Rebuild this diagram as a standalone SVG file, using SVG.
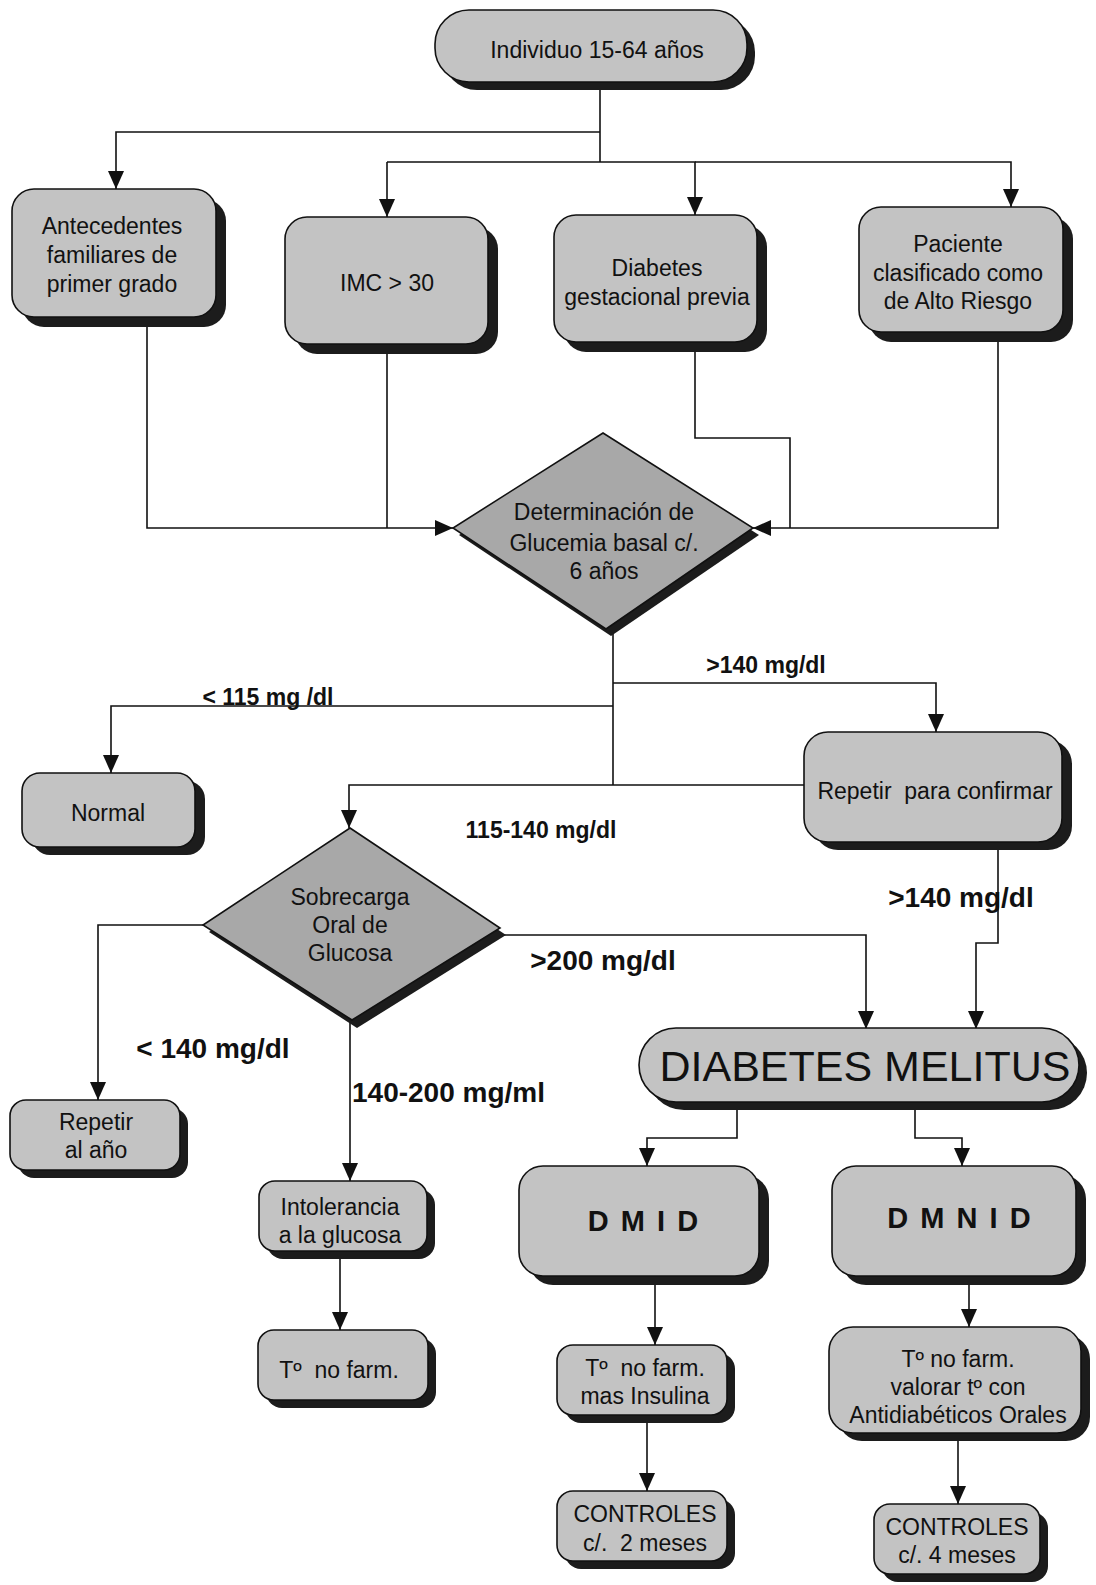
<svg xmlns="http://www.w3.org/2000/svg" width="1096" height="1585" viewBox="0 0 1096 1585">
  <style>
    .box { fill: #c3c3c3; stroke: #111; stroke-width: 1.6; }
    .dia { fill: #a8a8a8; stroke: #111; stroke-width: 1.6; }
    .sh { fill: #1c1c1c; }
    .t { font-family: "Liberation Sans", Arial, sans-serif; font-size: 23px; text-anchor: middle; fill: #111; white-space: pre; }
    .lbl { font-family: "Liberation Sans", Arial, sans-serif; font-weight: bold; fill: #111; white-space: pre; }
    .s { font-size: 23px; }
    .b { font-size: 28px; }
    .conn path { fill: none; stroke: #111; stroke-width: 1.6; }
    .arr { marker-end: url(#ah); }
  </style>
  <defs>
    <marker id="ah" viewBox="0 0 18 16" refX="18" refY="8" markerWidth="18" markerHeight="16" markerUnits="userSpaceOnUse" orient="auto">
      <path d="M0,0 L18,8 L0,16 z" fill="#111"/>
    </marker>
  </defs>

  <rect width="1096" height="1585" fill="#fff"/>

  <!-- connectors -->
  <g id="connectors" class="conn">
    <path d="M600,83 V162"/>
    <path class="arr" d="M600,132 H116 V189"/>
    <path class="arr" d="M387,162 V217"/>
    <path class="arr" d="M387,162 H695 V215"/>
    <path class="arr" d="M695,162 H1011 V207"/>
    <path class="arr" d="M147,318 V528 H453"/>
    <path d="M387,344 V528"/>
    <path d="M695,342 V438 H790 V528"/>
    <path class="arr" d="M998,332 V528 H753"/>
    <path d="M613,631 V785"/>
    <path class="arr" d="M613,683 H936 V732"/>
    <path class="arr" d="M613,706 H111 V773"/>
    <path class="arr" d="M804,785 H349 V828"/>
    <path class="arr" d="M500,935 H866 V1029"/>
    <path class="arr" d="M203,925 H98 V1100"/>
    <path class="arr" d="M350,1020 V1181"/>
    <path class="arr" d="M998,844 V943 H976 V1029"/>
    <path class="arr" d="M737,1102 V1138 H647 V1166"/>
    <path class="arr" d="M915,1102 V1138 H962 V1166"/>
    <path class="arr" d="M340,1251 V1330"/>
    <path class="arr" d="M655,1277 V1345"/>
    <path class="arr" d="M647,1415 V1491"/>
    <path class="arr" d="M969,1277 V1327"/>
    <path class="arr" d="M958,1433 V1504"/>
  </g>

  <!-- connector labels -->
  <g id="labels">
    <text class="lbl s" x="766" y="673" text-anchor="middle">&gt;140 mg/dl</text>
    <text class="lbl s" x="268" y="705" text-anchor="middle">&lt; 115 mg /dl</text>
    <text class="lbl s" x="541" y="838" text-anchor="middle">115-140 mg/dl</text>
    <text class="lbl b" x="961" y="907" text-anchor="middle">&gt;140 mg/dl</text>
    <text class="lbl b" x="603" y="970" text-anchor="middle">&gt;200 mg/dl</text>
    <text class="lbl b" x="213" y="1058" text-anchor="middle">&lt; 140 mg/dl</text>
    <text class="lbl b" x="352" y="1102">140-200 mg/ml</text>
  </g>

  <g id="n-individuo">
    <rect class="sh" x="443" y="18" width="312" height="72" rx="34"/>
    <rect class="box" x="435" y="10" width="312" height="72" rx="34"/>
    <text class="t" x="597" y="58">Individuo 15-64 años</text>
  </g>

  <g id="n-antecedentes">
    <rect class="sh" x="22" y="199" width="204" height="128" rx="22"/>
    <rect class="box" x="12" y="189" width="204" height="128" rx="22"/>
    <text class="t" x="112" y="234">Antecedentes</text>
    <text class="t" x="112" y="263">familiares de</text>
    <text class="t" x="112" y="292">primer grado</text>
  </g>

  <g id="n-imc">
    <rect class="sh" x="295" y="227" width="203" height="127" rx="22"/>
    <rect class="box" x="285" y="217" width="203" height="127" rx="22"/>
    <text class="t" x="387" y="291">IMC &gt; 30</text>
  </g>

  <g id="n-gestacional">
    <rect class="sh" x="564" y="225" width="203" height="127" rx="22"/>
    <rect class="box" x="554" y="215" width="203" height="127" rx="22"/>
    <text class="t" x="657" y="276">Diabetes</text>
    <text class="t" x="657" y="305">gestacional previa</text>
  </g>

  <g id="n-alto-riesgo">
    <rect class="sh" x="869" y="217" width="204" height="125" rx="22"/>
    <rect class="box" x="859" y="207" width="204" height="125" rx="22"/>
    <text class="t" x="958" y="252">Paciente</text>
    <text class="t" x="958" y="281">clasificado como</text>
    <text class="t" x="958" y="309">de Alto Riesgo</text>
  </g>

  <g id="n-glucemia">
    <polygon class="sh" points="609,440 759,535 611,636 459,535"/>
    <polygon class="dia" points="603,433 753,528 606,629 453,528"/>
    <text class="t" x="604" y="520">Determinación de</text>
    <text class="t" x="604" y="551">Glucemia basal c/.</text>
    <text class="t" x="604" y="579">6 años</text>
  </g>

  <g id="n-normal">
    <rect class="sh" x="32" y="781" width="173" height="74" rx="18"/>
    <rect class="box" x="22" y="773" width="173" height="74" rx="18"/>
    <text class="t" x="108" y="821">Normal</text>
  </g>

  <g id="n-repetir-confirmar">
    <rect class="sh" x="814" y="740" width="258" height="110" rx="24"/>
    <rect class="box" x="804" y="732" width="258" height="110" rx="24"/>
    <text class="t" x="935" y="799">Repetir  para confirmar</text>
  </g>

  <g id="n-sobrecarga">
    <polygon class="sh" points="356,835 506,935 357,1028 209,932"/>
    <polygon class="dia" points="350,828 500,928 352,1020 203,925"/>
    <text class="t" x="350" y="905">Sobrecarga</text>
    <text class="t" x="350" y="933">Oral de</text>
    <text class="t" x="350" y="961">Glucosa</text>
  </g>

  <g id="n-diabetes-melitus">
    <rect class="sh" x="647" y="1036" width="440" height="74" rx="37"/>
    <rect class="box" x="639" y="1028" width="440" height="74" rx="37"/>
    <text class="t" x="865" y="1081" style="font-size:43px">DIABETES MELITUS</text>
  </g>

  <g id="n-repetir-anio">
    <rect class="sh" x="18" y="1108" width="170" height="70" rx="16"/>
    <rect class="box" x="10" y="1100" width="170" height="70" rx="16"/>
    <text class="t" x="96" y="1130">Repetir</text>
    <text class="t" x="96" y="1158">al año</text>
  </g>

  <g id="n-intolerancia">
    <rect class="sh" x="267" y="1189" width="168" height="70" rx="16"/>
    <rect class="box" x="259" y="1181" width="168" height="70" rx="16"/>
    <text class="t" x="340" y="1215">Intolerancia</text>
    <text class="t" x="340" y="1243">a la glucosa</text>
  </g>

  <g id="n-tnofarm">
    <rect class="sh" x="266" y="1338" width="170" height="70" rx="16"/>
    <rect class="box" x="258" y="1330" width="170" height="70" rx="16"/>
    <text class="t" x="339" y="1378">Tº  no farm.</text>
  </g>

  <g id="n-dmid">
    <rect class="sh" x="529" y="1175" width="240" height="110" rx="24"/>
    <rect class="box" x="519" y="1166" width="240" height="110" rx="24"/>
    <text class="lbl" x="644" y="1231" text-anchor="middle" style="font-size:29px;letter-spacing:2px">D M I D</text>
  </g>

  <g id="n-dmnid">
    <rect class="sh" x="842" y="1175" width="244" height="110" rx="24"/>
    <rect class="box" x="832" y="1166" width="244" height="110" rx="24"/>
    <text class="lbl" x="960" y="1228" text-anchor="middle" style="font-size:29px;letter-spacing:2px">D M N I D</text>
  </g>

  <g id="n-insulina">
    <rect class="sh" x="565" y="1353" width="170" height="70" rx="16"/>
    <rect class="box" x="557" y="1345" width="170" height="70" rx="16"/>
    <text class="t" x="645" y="1376">Tº  no farm.</text>
    <text class="t" x="645" y="1404">mas Insulina</text>
  </g>

  <g id="n-controles-2">
    <rect class="sh" x="565" y="1499" width="170" height="70" rx="16"/>
    <rect class="box" x="557" y="1491" width="170" height="70" rx="16"/>
    <text class="t" x="645" y="1522">CONTROLES</text>
    <text class="t" x="645" y="1551">c/.  2 meses</text>
  </g>

  <g id="n-antidiabeticos">
    <rect class="sh" x="838" y="1335" width="252" height="106" rx="24"/>
    <rect class="box" x="829" y="1327" width="252" height="106" rx="24"/>
    <text class="t" x="958" y="1367">Tº no farm.</text>
    <text class="t" x="958" y="1395">valorar tº con</text>
    <text class="t" x="958" y="1423">Antidiabéticos Orales</text>
  </g>

  <g id="n-controles-4">
    <rect class="sh" x="882" y="1512" width="166" height="70" rx="16"/>
    <rect class="box" x="874" y="1504" width="166" height="70" rx="16"/>
    <text class="t" x="957" y="1535">CONTROLES</text>
    <text class="t" x="957" y="1563">c/. 4 meses</text>
  </g>
</svg>
